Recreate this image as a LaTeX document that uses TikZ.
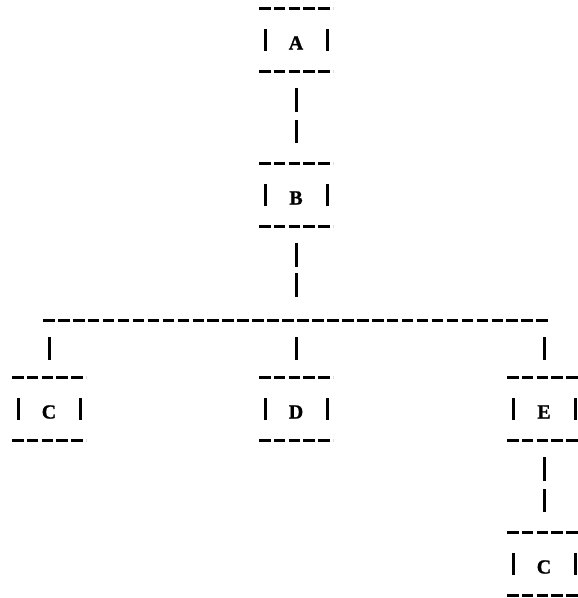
\documentclass[tikz,border=0pt]{standalone}
\usepackage{fontspec}
\setmainfont{Liberation Serif}
\newfontfamily\typedfont[FakeBold=1.2]{Liberation Serif}
\begin{document}
\begin{tikzpicture}[x=1pt, y=-1pt,
  dashrule/.style={line width=3pt, dash pattern=on 11.5pt off 3.3pt},
  busrule/.style={line width=3pt, dash pattern=on 11.6pt off 3.35pt},
  barrule/.style={line width=3pt},
  ttybox/.style={minimum width=74pt, minimum height=63pt, inner sep=0pt, outer sep=0pt,
    font=\typedfont\bfseries\fontsize{20}{20}\selectfont, text height=19pt, text depth=0pt},
  twobar/.style={barrule, shorten <=16.5pt, shorten >=20.5pt, dash pattern=on 24pt off 8pt},
  dropbar/.style={barrule, shorten <=17pt, shorten >=17.5pt}]
  \useasboundingbox (0,0) rectangle (578,598);

  % boxes with their letters
  \node[ttybox] (A)  at (296,40)  {A};
  \node[ttybox] (B)  at (296,195) {B};
  \node[ttybox] (C1) at (49,409)  {C};
  \node[ttybox] (D)  at (296,409) {D};
  \node[ttybox] (E)  at (544,409) {E};
  \node[ttybox] (C2) at (544,564) {C};

  % typed frame: dashed rows above and below, bars at the sides
  \foreach \n in {A,B,C1,D,E,C2} {
    \draw[dashrule] (\n.north west) -- (\n.north east);
    \draw[dashrule] (\n.south west) -- (\n.south east);
    \draw[barrule] ([shift={(6pt,-11pt)}]\n.west) -- ([shift={(6pt,11pt)}]\n.west);
    \draw[barrule] ([shift={(-6pt,-11pt)}]\n.east) -- ([shift={(-6pt,11pt)}]\n.east);
  }

  % horizontal bus
  \coordinate (busL) at (43,320);
  \coordinate (busR) at (548,320);
  \draw[busrule] (busL) -- (busR);

  % connectors
  \draw[twobar] (A.south) -- (B.north);
  \draw[barrule, shorten <=16.5pt, shorten >=23pt, dash pattern=on 24pt off 6pt] (B.south) -- (B |- busL);
  \draw[dropbar] (C1 |- busL) -- (C1.north);
  \draw[dropbar] (D |- busL) -- (D.north);
  \draw[dropbar] (E |- busL) -- (E.north);
  \draw[twobar] (E.south) -- (C2.north);
\end{tikzpicture}
\end{document}
